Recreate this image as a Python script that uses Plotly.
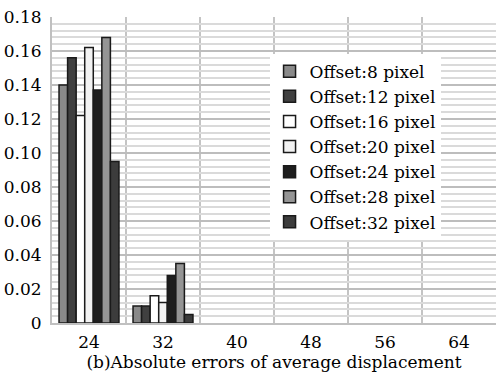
import plotly.graph_objects as go

categories = [24, 32, 40, 48, 56, 64]
series_names = ["Offset:8 pixel", "Offset:12 pixel", "Offset:16 pixel", "Offset:20 pixel",
                "Offset:24 pixel", "Offset:28 pixel", "Offset:32 pixel"]
offset8 = [0.140, 0.010, 0, 0, 0, 0]
offset12 = [0.156, 0.010, 0, 0, 0, 0]
offset16 = [0.122, 0.016, 0, 0, 0, 0]
offset20 = [0.162, 0.012, 0, 0, 0, 0]
offset24 = [0.137, 0.028, 0, 0, 0, 0]
offset28 = [0.168, 0.035, 0, 0, 0, 0]
offset32 = [0.095, 0.005, 0, 0, 0, 0]
ytick_vals = [0, 0.02, 0.04, 0.06, 0.08, 0.10, 0.12, 0.14, 0.16, 0.18]
ytick_text = ["0", "0.02", "0.04", "0.06", "0.08", "0.10", "0.12", "0.14", "0.16", "0.18"]

series = [offset8, offset12, offset16, offset20, offset24, offset28, offset32]
colors = ["#8a8a8a", "#404040", "#ffffff", "#f2f2f2", "#1e1e1e", "#959595", "#3c3c3c"]

font = "DejaVu Serif"

fig = go.Figure()
for name, vals, col in zip(series_names, series, colors):
    fig.add_trace(go.Bar(
        x=categories, y=vals, name=name,
        marker=dict(color=col,
                    line=dict(color="#1a1a1a", width=[1.5 if v > 0 else 0 for v in vals])),
    ))

fig.update_layout(
    width=496, height=385,
    margin=dict(l=52, r=0, t=17, b=62),
    paper_bgcolor="white", plot_bgcolor="white",
    barmode="group", bargap=0.19, bargroupgap=0,
    font=dict(family=font, size=17, color="black"),
    showlegend=True,
    legend=dict(
        x=0.49, y=0.88, xanchor="left", yanchor="top",
        bgcolor="white", borderwidth=0,
        font=dict(family=font, size=17, color="black"),
        tracegroupgap=0, itemwidth=30,
    ),
    xaxis=dict(
        range=[20, 68],
        tickvals=categories, ticktext=[str(c) for c in categories],
        showgrid=False, zeroline=False,
        showline=True, linecolor="#c0c0c0", linewidth=2,
        ticks="", ticklabelstandoff=3,
        tickfont=dict(family=font, size=17),
        minor=dict(tick0=20, dtick=8, showgrid=True, gridcolor="#c4c4c4", gridwidth=2),
        title=dict(text="(b)Absolute errors of average displacement",
                   font=dict(family=font, size=17), standoff=5),
    ),
    yaxis=dict(
        range=[0, 0.18],
        tickvals=ytick_vals, ticktext=ytick_text,
        showgrid=True, gridcolor="#bdbdbd", gridwidth=2,
        zeroline=False,
        showline=True, linecolor="#c0c0c0", linewidth=2,
        ticks="", ticklabelstandoff=5,
        tickfont=dict(family=font, size=17),
        minor=dict(dtick=0.004, showgrid=True, gridcolor="#dadada", gridwidth=1.5),
    ),
)

fig.write_html("out.html")
